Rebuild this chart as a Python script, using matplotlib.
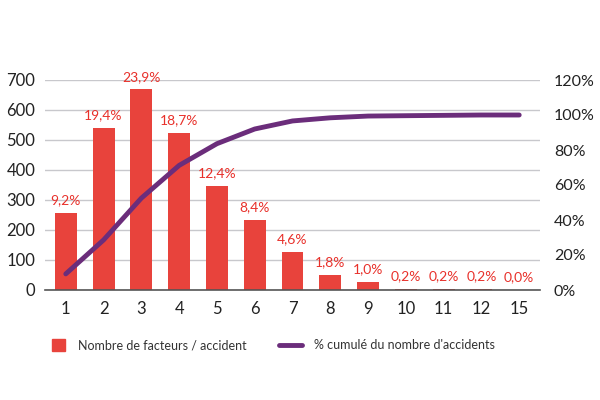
import numpy as np
import matplotlib.pyplot as plt
from matplotlib.patches import Patch
from matplotlib.lines import Line2D

plt.rcParams["font.family"] = ["Lato", "DejaVu Sans"]

# Data
categories = ["1", "2", "3", "4", "5", "6", "7", "8", "9", "10", "11", "12", "15"]
counts = [256, 541, 669, 523, 347, 233, 128, 50, 28, 5, 5, 5, 1]
shares = ["9,2%", "19,4%", "23,9%", "18,7%", "12,4%", "8,4%", "4,6%",
          "1,8%", "1,0%", "0,2%", "0,2%", "0,2%", "0,0%"]
cumul = [9.2, 28.6, 52.5, 71.2, 83.6, 92.0, 96.6, 98.4, 99.4, 99.6, 99.8, 100.0, 100.0]

bar_color = "#E8433C"
line_color = "#6B2D7B"
text_color = "#222222"

fig = plt.figure(figsize=(6, 4), dpi=100)
ax = fig.add_axes([0.075, 0.275, 0.825, 0.525])
x = np.arange(len(categories))

ax.bar(x, counts, width=0.58, color=bar_color, zorder=2)
for xi, v, s in zip(x, counts, shares):
    ax.text(xi, v + 22, s, ha="center", va="bottom", color="#E8302A",
            fontsize=10, clip_on=False)

ax.set_ylim(0, 700)
ax.set_yticks(range(0, 701, 100))
ax.set_xlim(-0.55, len(categories) - 0.45)
ax.set_xticks(x)
ax.set_xticklabels(categories)
ax.grid(axis="y", color="#C8C8CC", linewidth=1, zorder=0)
for sp in ["top", "right", "left"]:
    ax.spines[sp].set_visible(False)
ax.spines["bottom"].set_color("#555555")
ax.spines["bottom"].set_linewidth(1.2)
ax.tick_params(axis="both", length=0, labelsize=12, colors=text_color)
ax.tick_params(axis="x", pad=8)
ax.tick_params(axis="y", pad=7)

ax2 = ax.twinx()
ax2.plot(x, cumul, color=line_color, linewidth=3.5, solid_capstyle="round", zorder=3)
ax2.set_ylim(0, 120)
ax2.set_yticks(range(0, 121, 20))
ax2.set_yticklabels([f"{v}%" for v in range(0, 121, 20)])
for sp in ax2.spines.values():
    sp.set_visible(False)
ax2.tick_params(axis="y", length=0, labelsize=11.5, colors=text_color, pad=10)

# Legend, two separate entries
fig.legend([Patch(color=bar_color)], ["Nombre de facteurs / accident"],
           loc="center left", bbox_to_anchor=(0.068, 0.1375), frameon=False,
           fontsize=9, handlelength=1.05, handleheight=1.2, handletextpad=1.05,
           labelcolor="#333333")
fig.legend([Line2D([], [], color=line_color, linewidth=3.5, solid_capstyle="round")],
           ["% cumulé du nombre d'accidents"],
           loc="center left", bbox_to_anchor=(0.446, 0.1375), frameon=False,
           fontsize=9, handlelength=1.85, handletextpad=1.0,
           labelcolor="#333333")

fig.savefig("out.png", dpi=100)
